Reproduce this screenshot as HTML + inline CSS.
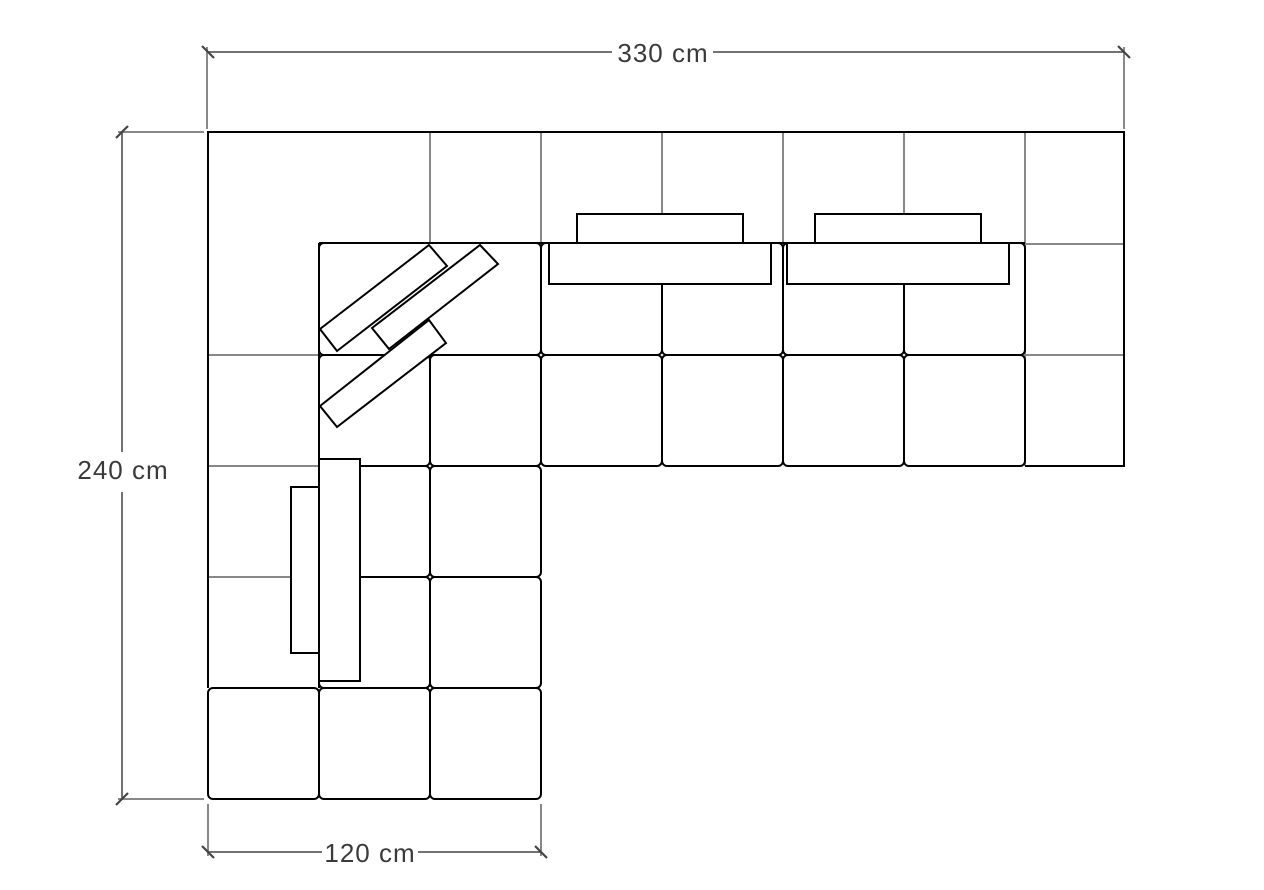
<!DOCTYPE html>
<html><head><meta charset="utf-8"><style>
html,body{margin:0;padding:0;background:#fff;}
svg{display:block;}
text{font-family:"Liberation Sans","DejaVu Sans",sans-serif;font-size:26px;letter-spacing:1px;fill:#3a3a3a;font-weight:300;}
</style></head><body>
<svg width="1264" height="890" viewBox="0 0 1264 890" xmlns="http://www.w3.org/2000/svg">
<g stroke="#888" stroke-width="2" fill="none">
  <line x1="207" y1="47" x2="207" y2="129"/>
  <line x1="1124" y1="47" x2="1124" y2="129"/>
  <line x1="118" y1="132" x2="204" y2="132"/>
  <line x1="118" y1="799" x2="204" y2="799"/>
  <line x1="208" y1="804" x2="208" y2="856"/>
  <line x1="541" y1="804" x2="541" y2="856"/>
  <line x1="430" y1="132" x2="430" y2="243"/>
  <line x1="541" y1="132" x2="541" y2="243"/>
  <line x1="662" y1="132" x2="662" y2="243"/>
  <line x1="783" y1="132" x2="783" y2="243"/>
  <line x1="904" y1="132" x2="904" y2="243"/>
  <line x1="1025" y1="132" x2="1025" y2="466"/>
  <line x1="1025" y1="244" x2="1124" y2="244"/>
  <line x1="1025" y1="355" x2="1124" y2="355"/>
  <line x1="208" y1="355" x2="319" y2="355"/>
  <line x1="208" y1="466" x2="319" y2="466"/>
  <line x1="208" y1="577" x2="291" y2="577"/>
</g>
<g stroke="#444" stroke-width="1.5" fill="none">
  <line x1="207" y1="52" x2="612" y2="52"/>
  <line x1="713" y1="52" x2="1124" y2="52"/>
  <line x1="122" y1="132" x2="122" y2="452"/>
  <line x1="122" y1="492" x2="122" y2="799"/>
  <line x1="208" y1="852" x2="322" y2="852"/>
  <line x1="418" y1="852" x2="541" y2="852"/>
</g>
<g stroke="#444" stroke-width="2.2">
  <line x1="202" y1="46" x2="214" y2="58"/>
  <line x1="1118" y1="46" x2="1130" y2="58"/>
  <line x1="116" y1="138" x2="128" y2="126"/>
  <line x1="116" y1="805" x2="128" y2="793"/>
  <line x1="202" y1="846" x2="214" y2="858"/>
  <line x1="535" y1="846" x2="547" y2="858"/>
</g>
<text x="663" y="62" text-anchor="middle">330 cm</text>
<text x="123" y="479" text-anchor="middle">240 cm</text>
<text x="370" y="862" text-anchor="middle">120 cm</text>

<g stroke="#000" stroke-width="2" fill="#fff">
  <polyline fill="none" points="208,688 208,132 1124,132 1124,466 1025,466"/>
  <line x1="319" y1="243" x2="1025" y2="243"/>
  <rect x="319" y="243" width="222" height="112" rx="5"/>
  <rect x="319" y="355" width="111" height="111" rx="5"/>
  <rect x="430" y="355" width="111" height="111" rx="5"/>
  <rect x="319" y="466" width="111" height="111" rx="5"/>
  <rect x="430" y="466" width="111" height="111" rx="5"/>
  <rect x="319" y="577" width="111" height="111" rx="5"/>
  <rect x="430" y="577" width="111" height="111" rx="5"/>
  <rect x="208" y="688" width="111" height="111" rx="5"/>
  <rect x="319" y="688" width="111" height="111" rx="5"/>
  <rect x="430" y="688" width="111" height="111" rx="5"/>
  <rect x="541" y="243" width="121" height="112" rx="5"/>
  <rect x="662" y="243" width="121" height="112" rx="5"/>
  <rect x="783" y="243" width="121" height="112" rx="5"/>
  <rect x="904" y="243" width="121" height="112" rx="5"/>
  <rect x="541" y="355" width="121" height="111" rx="5"/>
  <rect x="662" y="355" width="121" height="111" rx="5"/>
  <rect x="783" y="355" width="121" height="111" rx="5"/>
  <rect x="904" y="355" width="121" height="111" rx="5"/>
  <line x1="319" y1="243" x2="319" y2="688"/>
  <rect x="291" y="487" width="28" height="166"/>
  <rect x="319" y="459" width="41" height="222"/>
  <rect x="577" y="214" width="166" height="29"/>
  <rect x="815" y="214" width="166" height="29"/>
  <rect x="549" y="243" width="222" height="41"/>
  <rect x="787" y="243" width="222" height="41"/>
  <polygon points="320,329 429,245 447,266 337,351"/>
  <polygon points="372,328 480,245 498,264 389,349"/>
  <polygon points="320,406 429,320 446,343 337,427"/>
</g>
</svg>
</body></html>
